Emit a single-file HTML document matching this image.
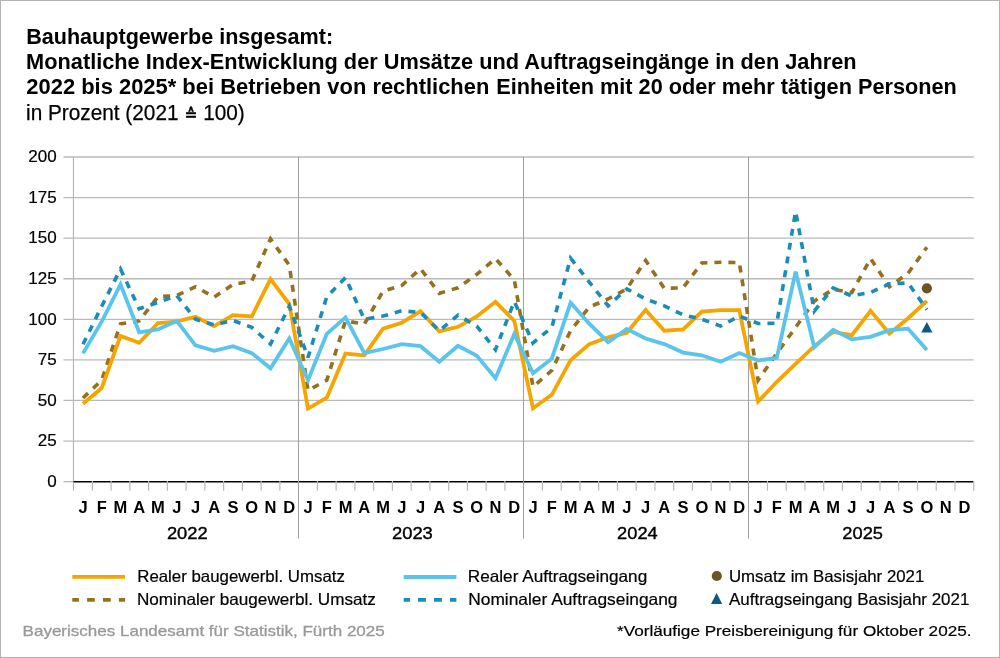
<!DOCTYPE html>
<html lang="de"><head><meta charset="utf-8"><title>Bauhauptgewerbe insgesamt</title>
<style>
html,body{margin:0;padding:0;background:#fff;}
body{width:1000px;height:658px;overflow:hidden;}
svg{display:block;will-change:transform;}
text{font-family:'Liberation Sans', Arial, sans-serif;}
.t{font-weight:bold;font-size:21.5px;fill:#000;}
.s{font-size:21.3px;fill:#000;stroke:#000;stroke-width:0.25px;}
.yl{font-size:17px;fill:#000;stroke:#000;stroke-width:0.2px;text-anchor:end;}
.ml{font-size:16.5px;font-weight:bold;fill:#000;text-anchor:middle;}
.yr{font-size:16.3px;fill:#000;stroke:#000;stroke-width:0.35px;}
.lg{font-size:16.5px;fill:#000;stroke:#000;stroke-width:0.2px;}
.ft{font-size:14.8px;fill:#999;stroke:#999;stroke-width:0.3px;}
.fr{font-size:15.3px;fill:#000;stroke:#000;stroke-width:0.2px;}
.eq{font-family:'DejaVu Sans',sans-serif;font-weight:bold;font-size:16px;}
</style></head><body>
<svg width="1000" height="658" viewBox="0 0 1000 658">
<rect x="0" y="0" width="1000" height="658" fill="#fff"/>
<rect x="0.5" y="0.5" width="999" height="657" fill="none" stroke="#b3b3b3" stroke-width="1"/>

<text class="t" x="26.15" y="43.8" textLength="306.96" lengthAdjust="spacingAndGlyphs">Bauhauptgewerbe insgesamt:</text>
<text class="t" x="26.14" y="68.6" textLength="830.41" lengthAdjust="spacingAndGlyphs">Monatliche Index-Entwicklung der Umsätze und Auftragseingänge in den Jahren</text>
<text class="t" x="26.37" y="93.8" textLength="462.99" lengthAdjust="spacingAndGlyphs">2022 bis 2025* bei Betrieben von rechtlichen</text>
<text class="t" x="496.38" y="93.8" textLength="460.38" lengthAdjust="spacingAndGlyphs">Einheiten mit 20 oder mehr tätigen Personen</text>
<text class="s" x="26.07" y="119.9" textLength="218.65" lengthAdjust="spacingAndGlyphs">in Prozent (2021 <tspan class="eq">≙</tspan> 100)</text>
<line x1="63.5" y1="441.03" x2="973.74" y2="441.03" stroke="#bababa" stroke-width="1.3"/>
<line x1="63.5" y1="400.45" x2="973.74" y2="400.45" stroke="#bababa" stroke-width="1.3"/>
<line x1="63.5" y1="359.88" x2="973.74" y2="359.88" stroke="#bababa" stroke-width="1.3"/>
<line x1="63.5" y1="319.30" x2="973.74" y2="319.30" stroke="#bababa" stroke-width="1.3"/>
<line x1="63.5" y1="278.73" x2="973.74" y2="278.73" stroke="#bababa" stroke-width="1.3"/>
<line x1="63.5" y1="238.15" x2="973.74" y2="238.15" stroke="#bababa" stroke-width="1.3"/>
<line x1="63.5" y1="197.58" x2="973.74" y2="197.58" stroke="#bababa" stroke-width="1.3"/>
<line x1="63.5" y1="157.00" x2="973.74" y2="157.00" stroke="#bababa" stroke-width="1.3"/>
<text class="yl" x="56.6" y="486.90">0</text>
<text class="yl" x="56.6" y="446.33">25</text>
<text class="yl" x="56.6" y="405.75">50</text>
<text class="yl" x="56.6" y="365.18">75</text>
<text class="yl" x="56.6" y="324.60">100</text>
<text class="yl" x="56.6" y="284.03">125</text>
<text class="yl" x="56.6" y="243.45">150</text>
<text class="yl" x="56.6" y="202.88">175</text>
<text class="yl" x="56.6" y="162.30">200</text>
<line x1="63.5" y1="481.65" x2="73.6" y2="481.65" stroke="#bababa" stroke-width="1.3"/>
<line x1="73.45" y1="157" x2="73.45" y2="490.8" stroke="#b4b4b4" stroke-width="1.1"/>
<line x1="73.6" y1="481.65" x2="973.74" y2="481.65" stroke="#000" stroke-width="1.5"/>
<line x1="92.35" y1="481" x2="92.35" y2="490.8" stroke="#bababa" stroke-width="1.2"/>
<line x1="111.11" y1="481" x2="111.11" y2="490.8" stroke="#bababa" stroke-width="1.2"/>
<line x1="129.86" y1="481" x2="129.86" y2="490.8" stroke="#bababa" stroke-width="1.2"/>
<line x1="148.61" y1="481" x2="148.61" y2="490.8" stroke="#bababa" stroke-width="1.2"/>
<line x1="167.37" y1="481" x2="167.37" y2="490.8" stroke="#bababa" stroke-width="1.2"/>
<line x1="186.12" y1="481" x2="186.12" y2="490.8" stroke="#bababa" stroke-width="1.2"/>
<line x1="204.87" y1="481" x2="204.87" y2="490.8" stroke="#bababa" stroke-width="1.2"/>
<line x1="223.62" y1="481" x2="223.62" y2="490.8" stroke="#bababa" stroke-width="1.2"/>
<line x1="242.38" y1="481" x2="242.38" y2="490.8" stroke="#bababa" stroke-width="1.2"/>
<line x1="261.13" y1="481" x2="261.13" y2="490.8" stroke="#bababa" stroke-width="1.2"/>
<line x1="279.88" y1="481" x2="279.88" y2="490.8" stroke="#bababa" stroke-width="1.2"/>
<line x1="298.50" y1="157" x2="298.50" y2="538.6" stroke="#a0a0a0" stroke-width="1"/>
<line x1="317.39" y1="481" x2="317.39" y2="490.8" stroke="#bababa" stroke-width="1.2"/>
<line x1="336.14" y1="481" x2="336.14" y2="490.8" stroke="#bababa" stroke-width="1.2"/>
<line x1="354.89" y1="481" x2="354.89" y2="490.8" stroke="#bababa" stroke-width="1.2"/>
<line x1="373.65" y1="481" x2="373.65" y2="490.8" stroke="#bababa" stroke-width="1.2"/>
<line x1="392.40" y1="481" x2="392.40" y2="490.8" stroke="#bababa" stroke-width="1.2"/>
<line x1="411.15" y1="481" x2="411.15" y2="490.8" stroke="#bababa" stroke-width="1.2"/>
<line x1="429.91" y1="481" x2="429.91" y2="490.8" stroke="#bababa" stroke-width="1.2"/>
<line x1="448.66" y1="481" x2="448.66" y2="490.8" stroke="#bababa" stroke-width="1.2"/>
<line x1="467.41" y1="481" x2="467.41" y2="490.8" stroke="#bababa" stroke-width="1.2"/>
<line x1="486.17" y1="481" x2="486.17" y2="490.8" stroke="#bababa" stroke-width="1.2"/>
<line x1="504.92" y1="481" x2="504.92" y2="490.8" stroke="#bababa" stroke-width="1.2"/>
<line x1="523.50" y1="157" x2="523.50" y2="538.6" stroke="#a0a0a0" stroke-width="1"/>
<line x1="542.42" y1="481" x2="542.42" y2="490.8" stroke="#bababa" stroke-width="1.2"/>
<line x1="561.18" y1="481" x2="561.18" y2="490.8" stroke="#bababa" stroke-width="1.2"/>
<line x1="579.93" y1="481" x2="579.93" y2="490.8" stroke="#bababa" stroke-width="1.2"/>
<line x1="598.68" y1="481" x2="598.68" y2="490.8" stroke="#bababa" stroke-width="1.2"/>
<line x1="617.44" y1="481" x2="617.44" y2="490.8" stroke="#bababa" stroke-width="1.2"/>
<line x1="636.19" y1="481" x2="636.19" y2="490.8" stroke="#bababa" stroke-width="1.2"/>
<line x1="654.94" y1="481" x2="654.94" y2="490.8" stroke="#bababa" stroke-width="1.2"/>
<line x1="673.70" y1="481" x2="673.70" y2="490.8" stroke="#bababa" stroke-width="1.2"/>
<line x1="692.45" y1="481" x2="692.45" y2="490.8" stroke="#bababa" stroke-width="1.2"/>
<line x1="711.20" y1="481" x2="711.20" y2="490.8" stroke="#bababa" stroke-width="1.2"/>
<line x1="729.96" y1="481" x2="729.96" y2="490.8" stroke="#bababa" stroke-width="1.2"/>
<line x1="748.50" y1="157" x2="748.50" y2="538.6" stroke="#a0a0a0" stroke-width="1"/>
<line x1="767.46" y1="481" x2="767.46" y2="490.8" stroke="#bababa" stroke-width="1.2"/>
<line x1="786.21" y1="481" x2="786.21" y2="490.8" stroke="#bababa" stroke-width="1.2"/>
<line x1="804.97" y1="481" x2="804.97" y2="490.8" stroke="#bababa" stroke-width="1.2"/>
<line x1="823.72" y1="481" x2="823.72" y2="490.8" stroke="#bababa" stroke-width="1.2"/>
<line x1="842.47" y1="481" x2="842.47" y2="490.8" stroke="#bababa" stroke-width="1.2"/>
<line x1="861.23" y1="481" x2="861.23" y2="490.8" stroke="#bababa" stroke-width="1.2"/>
<line x1="879.98" y1="481" x2="879.98" y2="490.8" stroke="#bababa" stroke-width="1.2"/>
<line x1="898.73" y1="481" x2="898.73" y2="490.8" stroke="#bababa" stroke-width="1.2"/>
<line x1="917.49" y1="481" x2="917.49" y2="490.8" stroke="#bababa" stroke-width="1.2"/>
<line x1="936.24" y1="481" x2="936.24" y2="490.8" stroke="#bababa" stroke-width="1.2"/>
<line x1="954.99" y1="481" x2="954.99" y2="490.8" stroke="#bababa" stroke-width="1.2"/>
<line x1="973.74" y1="481" x2="973.74" y2="490.8" stroke="#bababa" stroke-width="1.2"/>
<text class="ml" x="82.98" y="512.8">J</text>
<text class="ml" x="101.73" y="512.8">F</text>
<text class="ml" x="120.48" y="512.8">M</text>
<text class="ml" x="139.24" y="512.8">A</text>
<text class="ml" x="157.99" y="512.8">M</text>
<text class="ml" x="176.74" y="512.8">J</text>
<text class="ml" x="195.49" y="512.8">J</text>
<text class="ml" x="214.25" y="512.8">A</text>
<text class="ml" x="233.00" y="512.8">S</text>
<text class="ml" x="251.75" y="512.8">O</text>
<text class="ml" x="270.51" y="512.8">N</text>
<text class="ml" x="289.26" y="512.8">D</text>
<text class="ml" x="308.01" y="512.8">J</text>
<text class="ml" x="326.77" y="512.8">F</text>
<text class="ml" x="345.52" y="512.8">M</text>
<text class="ml" x="364.27" y="512.8">A</text>
<text class="ml" x="383.02" y="512.8">M</text>
<text class="ml" x="401.78" y="512.8">J</text>
<text class="ml" x="420.53" y="512.8">J</text>
<text class="ml" x="439.28" y="512.8">A</text>
<text class="ml" x="458.04" y="512.8">S</text>
<text class="ml" x="476.79" y="512.8">O</text>
<text class="ml" x="495.54" y="512.8">N</text>
<text class="ml" x="514.30" y="512.8">D</text>
<text class="ml" x="533.05" y="512.8">J</text>
<text class="ml" x="551.80" y="512.8">F</text>
<text class="ml" x="570.55" y="512.8">M</text>
<text class="ml" x="589.31" y="512.8">A</text>
<text class="ml" x="608.06" y="512.8">M</text>
<text class="ml" x="626.81" y="512.8">J</text>
<text class="ml" x="645.57" y="512.8">J</text>
<text class="ml" x="664.32" y="512.8">A</text>
<text class="ml" x="683.07" y="512.8">S</text>
<text class="ml" x="701.83" y="512.8">O</text>
<text class="ml" x="720.58" y="512.8">N</text>
<text class="ml" x="739.33" y="512.8">D</text>
<text class="ml" x="758.08" y="512.8">J</text>
<text class="ml" x="776.84" y="512.8">F</text>
<text class="ml" x="795.59" y="512.8">M</text>
<text class="ml" x="814.34" y="512.8">A</text>
<text class="ml" x="833.10" y="512.8">M</text>
<text class="ml" x="851.85" y="512.8">J</text>
<text class="ml" x="870.60" y="512.8">J</text>
<text class="ml" x="889.36" y="512.8">A</text>
<text class="ml" x="908.11" y="512.8">S</text>
<text class="ml" x="926.86" y="512.8">O</text>
<text class="ml" x="945.61" y="512.8">N</text>
<text class="ml" x="964.37" y="512.8">D</text>
<text class="yr" x="166.91" y="538.7" textLength="40.79" lengthAdjust="spacingAndGlyphs">2022</text>
<text class="yr" x="391.94" y="538.7" textLength="40.90" lengthAdjust="spacingAndGlyphs">2023</text>
<text class="yr" x="617.13" y="538.7" textLength="40.59" lengthAdjust="spacingAndGlyphs">2024</text>
<text class="yr" x="842.38" y="538.7" textLength="40.65" lengthAdjust="spacingAndGlyphs">2025</text>
<polyline points="83.0,398.0 101.7,380.2 120.5,323.8 139.2,320.9 158.0,296.7 176.7,295.6 195.5,286.8 214.2,297.2 233.0,284.4 251.8,281.0 270.5,238.8 289.3,265.3 308.0,390.4 326.8,380.2 345.5,320.9 364.3,324.2 383.0,291.2 401.8,285.5 420.5,268.7 439.3,293.3 458.0,287.8 476.8,274.3 495.5,258.6 514.3,279.9 533.0,386.8 551.8,370.4 570.6,330.7 589.3,307.0 608.1,299.0 626.8,288.9 645.6,260.4 664.3,288.3 683.1,287.8 701.8,263.0 720.6,262.2 739.3,262.5 758.1,380.2 776.8,353.4 795.6,327.4 814.3,301.1 833.1,289.4 851.8,292.5 870.6,258.6 889.4,286.8 908.1,273.2 926.9,247.2" fill="none" stroke="#94701f" stroke-width="3.6" stroke-dasharray="7 7" stroke-linejoin="miter" stroke-miterlimit="3"/>
<polyline points="83.0,403.7 101.7,388.0 120.5,335.9 139.2,342.7 158.0,323.0 176.7,321.6 195.5,316.7 214.2,326.1 233.0,315.2 251.8,316.5 270.5,279.2 289.3,304.0 308.0,408.6 326.8,397.7 345.5,353.5 364.3,355.3 383.0,328.7 401.8,322.7 420.5,311.2 439.3,331.3 458.0,326.8 476.8,316.4 495.5,301.8 514.3,320.9 533.0,408.2 551.8,394.8 570.6,360.2 589.3,344.1 608.1,337.3 626.8,332.8 645.6,309.9 664.3,330.7 683.1,329.4 701.8,311.7 720.6,310.2 739.3,310.2 758.1,401.6 776.8,381.8 795.6,363.9 814.3,346.1 833.1,332.0 851.8,335.2 870.6,310.9 889.4,333.6 908.1,318.2 926.9,300.8" fill="none" stroke="#f5a500" stroke-width="3.8" stroke-linejoin="miter" stroke-miterlimit="3"/>
<polyline points="83.0,344.3 101.7,306.3 120.5,269.0 139.2,308.8 158.0,302.4 176.7,295.6 195.5,319.3 214.2,325.0 233.0,320.4 251.8,327.4 270.5,344.1 289.3,306.3 308.0,357.4 326.8,296.7 345.5,277.6 364.3,319.3 383.0,316.1 401.8,310.7 420.5,312.5 439.3,330.7 458.0,315.2 476.8,326.1 495.5,349.7 514.3,301.4 533.0,343.0 551.8,327.4 570.6,258.1 589.3,282.1 608.1,305.8 626.8,288.9 645.6,299.0 664.3,305.8 683.1,314.8 701.8,319.3 720.6,326.1 739.3,316.1 758.1,323.5 776.8,323.2 795.6,211.4 814.3,311.0 833.1,288.0 851.8,295.9 870.6,292.4 889.4,283.9 908.1,282.9 926.9,309.6" fill="none" stroke="#1b8cb6" stroke-width="3.6" stroke-dasharray="7 7" stroke-linejoin="miter" stroke-miterlimit="3"/>
<polyline points="83.0,353.4 101.7,321.6 120.5,284.4 139.2,332.3 158.0,329.4 176.7,320.9 195.5,345.3 214.2,350.8 233.0,346.2 251.8,353.1 270.5,368.3 289.3,338.5 308.0,380.2 326.8,333.9 345.5,317.4 364.3,353.1 383.0,349.0 401.8,344.1 420.5,346.2 439.3,361.7 458.0,345.9 476.8,355.8 495.5,378.2 514.3,333.9 533.0,373.3 551.8,358.7 570.6,302.7 589.3,323.7 608.1,342.2 626.8,329.0 645.6,338.5 664.3,344.1 683.1,352.6 701.8,355.3 720.6,361.7 739.3,353.1 758.1,360.5 776.8,357.9 795.6,271.6 814.3,347.1 833.1,329.8 851.8,339.4 870.6,336.8 889.4,330.2 908.1,328.7 926.9,350.1" fill="none" stroke="#5ac4ea" stroke-width="3.8" stroke-linejoin="miter" stroke-miterlimit="3"/>
<circle cx="926.86" cy="288.30" r="5.1" fill="#6b5424"/>
<polygon points="921.26,332.42 932.46,332.42 926.86,321.92" fill="#0c5a80"/>
<line x1="72.3" y1="576.9" x2="125.1" y2="576.9" stroke="#f5a500" stroke-width="3.8"/>
<line x1="72.3" y1="599.9" x2="125.1" y2="599.9" stroke="#94701f" stroke-width="3.8" stroke-dasharray="6.6 8.2 7.7 8.2 7.7 8.2 7.7"/>
<line x1="403.7" y1="577" x2="456.4" y2="577" stroke="#5ac4ea" stroke-width="3.8"/>
<line x1="403.7" y1="599.8" x2="456.4" y2="599.8" stroke="#1b8cb6" stroke-width="3.8" stroke-dasharray="6.4 7.8 8 8 8 8 8"/>
<circle cx="716.8" cy="576" r="5.1" fill="#6b5424"/>
<polygon points="711,604 722.2,604 716.6,593" fill="#0c5a80"/>
<text class="lg" x="137.24" y="581.8" textLength="207.59" lengthAdjust="spacingAndGlyphs">Realer baugewerbl. Umsatz</text>
<text class="lg" x="136.93" y="604.8" textLength="239.01" lengthAdjust="spacingAndGlyphs">Nominaler baugewerbl. Umsatz</text>
<text class="lg" x="467.80" y="581.8" textLength="179.41" lengthAdjust="spacingAndGlyphs">Realer Auftragseingang</text>
<text class="lg" x="468.22" y="604.8" textLength="209.26" lengthAdjust="spacingAndGlyphs">Nominaler Auftragseingang</text>
<text class="lg" x="728.98" y="581.8" textLength="195.34" lengthAdjust="spacingAndGlyphs">Umsatz im Basisjahr 2021</text>
<text class="lg" x="729.02" y="604.6" textLength="240.40" lengthAdjust="spacingAndGlyphs">Auftragseingang Basisjahr 2021</text>
<text class="ft" x="22.60" y="635.8" textLength="362.15" lengthAdjust="spacingAndGlyphs">Bayerisches Landesamt für Statistik, Fürth 2025</text>
<text class="fr" x="617.00" y="635.6" textLength="354.53" lengthAdjust="spacingAndGlyphs">*Vorläufige Preisbereinigung für Oktober 2025.</text>
</svg>
</body></html>
